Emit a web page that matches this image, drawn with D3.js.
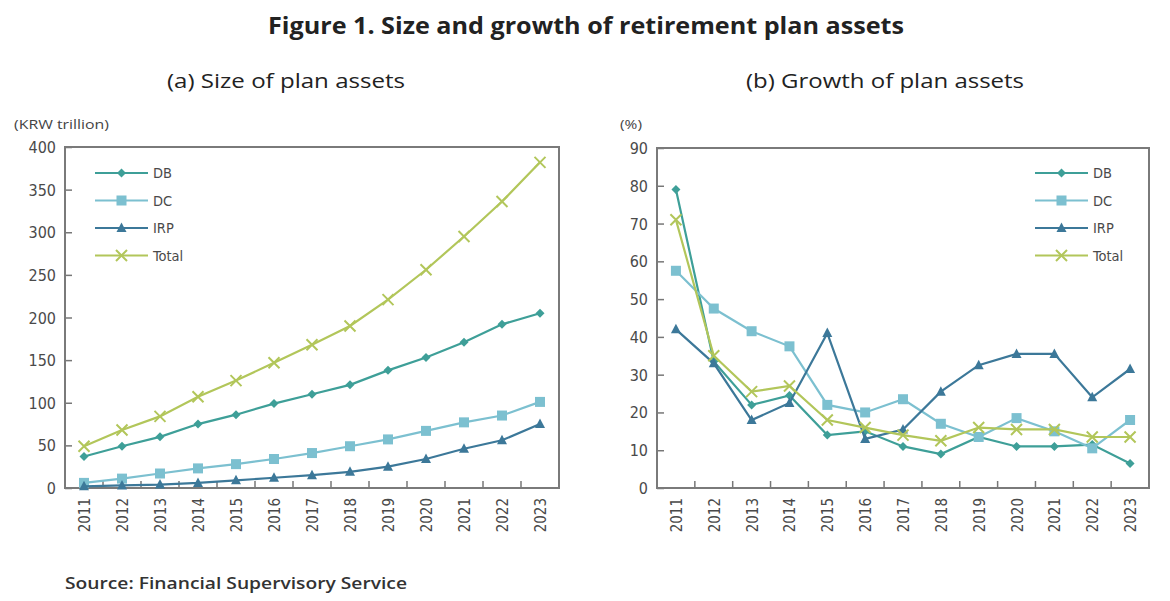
<!DOCTYPE html>
<html>
<head>
<meta charset="utf-8">
<script src="https://cdn.jsdelivr.net/npm/d3@7"></script>
<style>
  body { margin: 0; background: #fff; }
  text { font-family: "Liberation Sans Narrow", "Open Sans", sans-serif; fill: #333; }
  .tick-label { font-family: "DejaVu Sans Condensed", "DejaVu Sans", sans-serif; fill: #4a4a4a; }
</style>
</head>
<body>
<svg id="chart" width="1170" height="601"></svg>
<script>
// categories
const years = ["2011", "2012", "2013", "2014", "2015", "2016", "2017", "2018", "2019", "2020", "2021", "2022", "2023"];

// (a) size of plan assets, KRW trillion
const sizeDB = [37, 49, 60, 75, 86, 99, 110, 121, 138, 153, 171, 192, 205];
const sizeDC = [6, 11, 17, 23, 28, 34, 41, 49, 57, 67, 77, 85, 101];
const sizeIRP = [2, 3, 4, 6, 9, 12, 15, 19, 25, 34, 46, 56, 75];
const sizeTotal = [49, 68, 84, 107, 126, 147, 168, 190, 221, 256, 295, 336, 382];

// (b) growth of plan assets, %
const growthDB = [79, 33.5, 22, 24.5, 14, 15, 11, 9, 13.5, 11, 11, 11.5, 6.5];
const growthDC = [57.5, 47.5, 41.5, 37.5, 22, 20, 23.5, 17, 13.5, 18.5, 15, 10.5, 18];
const growthIRP = [42, 33, 18, 22.5, 41, 13, 15.5, 25.5, 32.5, 35.5, 35.5, 24, 31.5];
const growthTotal = [71, 35, 25.5, 27, 18, 16, 14, 12.5, 16, 15.5, 15.5, 13.5, 13.5];

// tick labels
const sizeTicks = [0, 50, 100, 150, 200, 250, 300, 350, 400];
const growthTicks = [0, 10, 20, 30, 40, 50, 60, 70, 80, 90];

const seriesNames = ["DB", "DC", "IRP", "Total"];
const colors = { DB: "#3e9f98", DC: "#7cc0d0", IRP: "#3c7899", Total: "#b2c65a" };

const svg = d3.select("#chart");

// figure title
svg.append("text")
  .attr("x", 586).attr("y", 34)
  .attr("text-anchor", "middle")
  .attr("font-size", 24).attr("font-weight", "bold")
  .attr("textLength", 636).attr("lengthAdjust", "spacingAndGlyphs")
  .style("fill", "#222")
  .text("Figure 1. Size and growth of retirement plan assets");

// source note
svg.append("text")
  .attr("x", 65).attr("y", 589)
  .attr("font-size", 17).attr("font-weight", 600)
  .attr("textLength", 342).attr("lengthAdjust", "spacingAndGlyphs")
  .style("fill", "#333")
  .text("Source: Financial Supervisory Service");

function marker(g, name, color) {
  if (name === "DB") {
    g.append("path").attr("d", "M0,-4.5L4.5,0L0,4.5L-4.5,0Z").attr("fill", color);
  } else if (name === "DC") {
    g.append("rect").attr("x", -5).attr("y", -5).attr("width", 10).attr("height", 10).attr("fill", color);
  } else if (name === "IRP") {
    g.append("path").attr("d", "M0,-5.5L5,4L-5,4Z").attr("fill", color);
  } else {
    g.append("path").attr("d", "M-5.5,-5.5L5.5,5.5M-5.5,5.5L5.5,-5.5")
      .attr("stroke", color).attr("stroke-width", 2).attr("fill", "none");
  }
}

function drawPanel(cfg) {
  const g = svg.append("g");
  const x = d3.scaleBand().domain(years).range([cfg.left, cfg.right]);
  const y = d3.scaleLinear().domain(cfg.domain).range([cfg.bottom, cfg.top]);

  // subtitle
  g.append("text")
    .attr("x", cfg.titleX).attr("y", 88)
    .attr("text-anchor", "middle")
    .attr("font-size", 20)
    .attr("textLength", cfg.titleLen).attr("lengthAdjust", "spacingAndGlyphs")
    .style("fill", "#222")
    .text(cfg.title);

  // unit
  g.append("text")
    .attr("x", cfg.unitX).attr("y", 129)
    .attr("font-size", 12.5)
    .attr("textLength", cfg.unitLen).attr("lengthAdjust", "spacingAndGlyphs")
    .style("fill", "#444")
    .text(cfg.unit);

  // y axis: ticks pointing inward, labels outside
  const yAxis = d3.axisRight(y).tickValues(cfg.ticks).tickSize(7).tickFormat("");
  g.append("g").attr("transform", `translate(${cfg.left},0)`).call(yAxis)
    .call(a => a.select(".domain").remove())
    .call(a => a.selectAll("line").attr("stroke", "#777").attr("stroke-width", 1.5));
  g.selectAll(".ylab").data(cfg.ticks).join("text")
    .attr("class", "tick-label")
    .attr("x", cfg.left - 9).attr("y", d => y(d) + 6)
    .attr("text-anchor", "end").attr("font-size", 16)
    .text(d => d);

  // x axis: ticks at band boundaries, pointing up
  const bounds = years.slice(1);
  g.selectAll(".xtick").data(bounds).join("line")
    .attr("x1", d => x(d)).attr("x2", d => x(d))
    .attr("y1", cfg.bottom).attr("y2", cfg.bottom - 7)
    .attr("stroke", "#777").attr("stroke-width", 1.5);
  g.selectAll(".xlab").data(years).join("text")
    .attr("class", "tick-label")
    .attr("transform", d => `translate(${x(d) + x.bandwidth() / 2 + 6},${cfg.bottom + 10}) rotate(-90)`)
    .attr("text-anchor", "end").attr("font-size", 15)
    .text(d => d);

  // frame
  g.append("rect")
    .attr("x", cfg.left).attr("y", cfg.top)
    .attr("width", cfg.right - cfg.left).attr("height", cfg.bottom - cfg.top)
    .attr("fill", "none").attr("stroke", "#7a7a7a").attr("stroke-width", 2);

  const line = d3.line().x((d, i) => x(years[i]) + x.bandwidth() / 2).y(d => y(d));

  seriesNames.forEach(name => {
    const vals = cfg.data[name];
    g.append("path").datum(vals)
      .attr("d", line).attr("fill", "none")
      .attr("stroke", colors[name]).attr("stroke-width", 2.2);
    vals.forEach((v, i) => {
      const m = g.append("g").attr("transform", `translate(${x(years[i]) + x.bandwidth() / 2},${y(v)})`);
      marker(m, name, colors[name]);
    });
  });

  // legend
  seriesNames.forEach((name, i) => {
    const ly = 173 + i * 27.5;
    const lg = g.append("g");
    lg.append("line")
      .attr("x1", cfg.legendX).attr("x2", cfg.legendX + 53)
      .attr("y1", ly).attr("y2", ly)
      .attr("stroke", colors[name]).attr("stroke-width", 2);
    const m = lg.append("g").attr("transform", `translate(${cfg.legendX + 26.5},${ly})`);
    marker(m, name, colors[name]);
    lg.append("text")
      .attr("class", "tick-label")
      .attr("x", cfg.legendX + 58).attr("y", ly + 5)
      .attr("font-size", 14.5)
      .text(name);
  });
}

drawPanel({
  left: 65, right: 559, top: 147, bottom: 488,
  domain: [0, 400], ticks: sizeTicks,
  title: "(a) Size of plan assets", titleX: 286, titleLen: 238,
  unit: "(KRW trillion)", unitX: 14, unitLen: 95,
  legendX: 95,
  data: { DB: sizeDB, DC: sizeDC, IRP: sizeIRP, Total: sizeTotal }
});

drawPanel({
  left: 657, right: 1149, top: 148, bottom: 488,
  domain: [0, 90], ticks: growthTicks,
  title: "(b) Growth of plan assets", titleX: 885, titleLen: 278,
  unit: "(%)", unitX: 620, unitLen: 22,
  legendX: 1035,
  data: { DB: growthDB, DC: growthDC, IRP: growthIRP, Total: growthTotal }
});
</script>
</body>
</html>
